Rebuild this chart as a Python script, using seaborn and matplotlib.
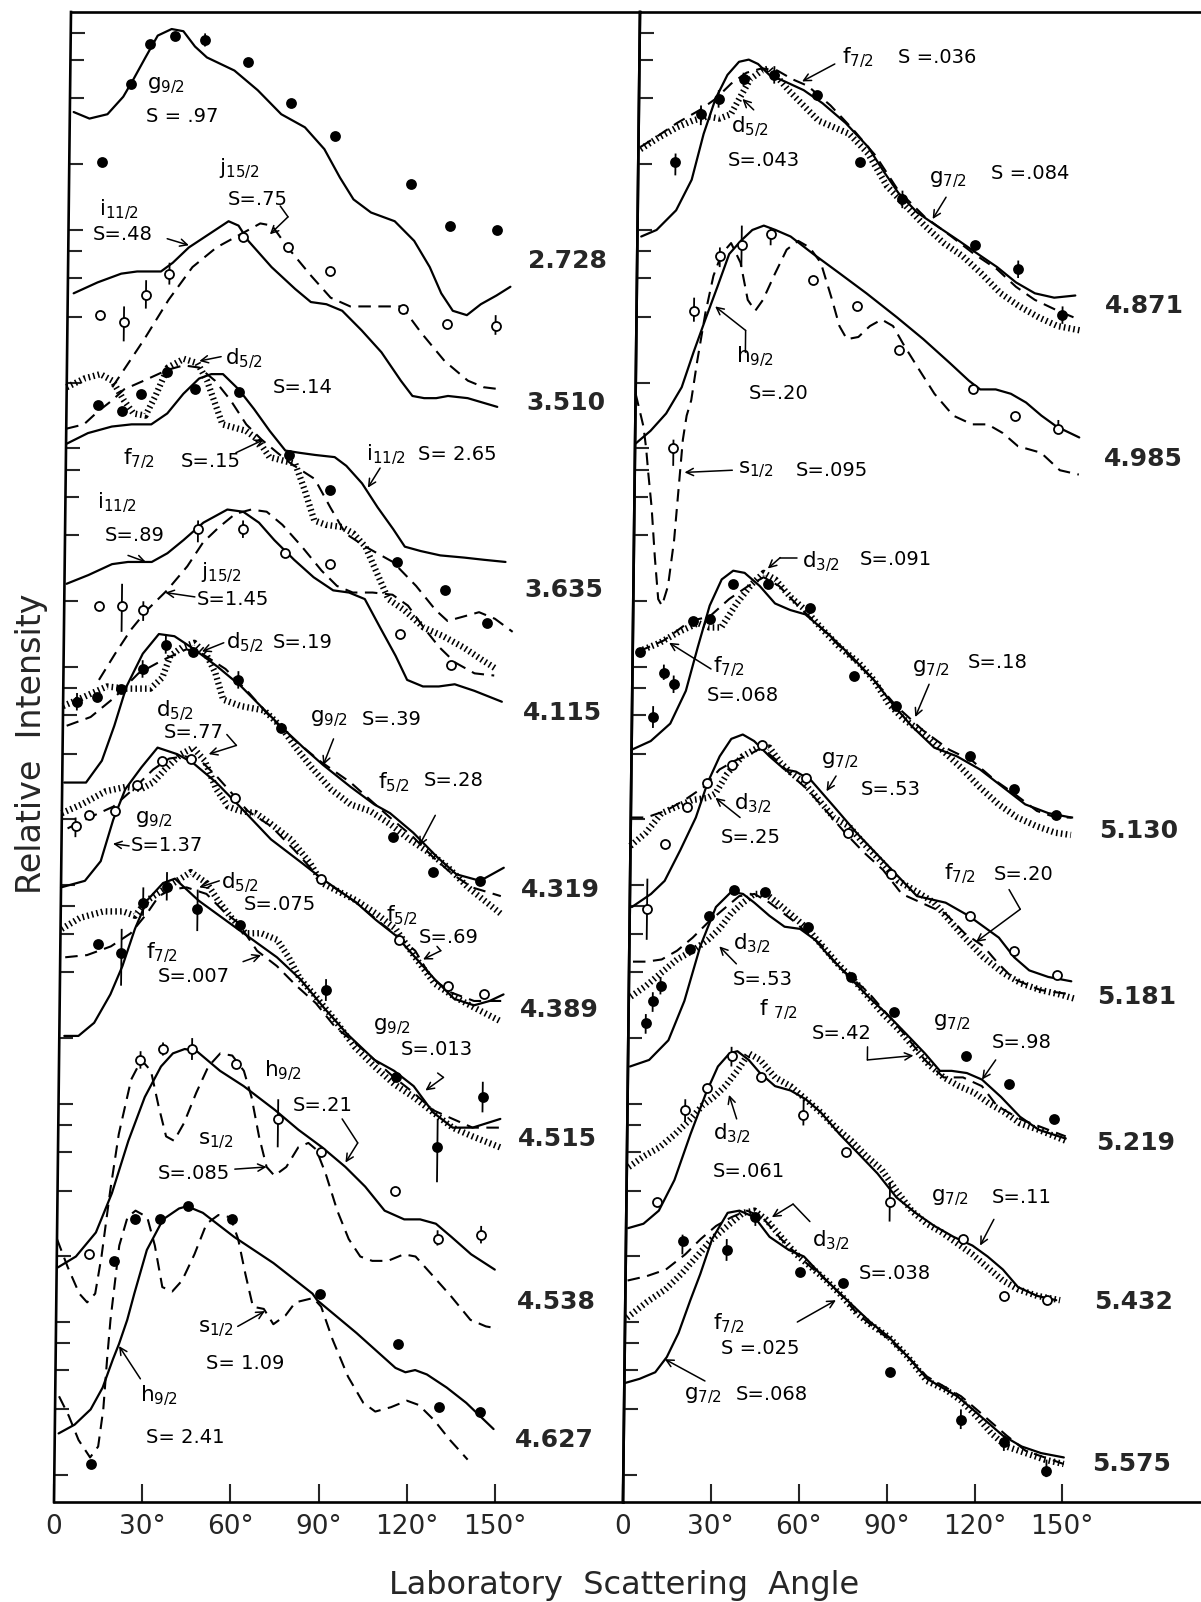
import numpy as np
import matplotlib
matplotlib.use("Agg")
import matplotlib.pyplot as plt
import matplotlib.collections as mcoll
import matplotlib.axis as maxis
from matplotlib.patches import FancyArrowPatch
from matplotlib.transforms import Affine2D
import seaborn as sns
from matplotlib.ticker import FixedLocator, NullFormatter, NullLocator

sns.set_theme(style="white")
plt.rcParams["font.family"] = ["DejaVu Sans"]
plt.rcParams["mathtext.default"] = "regular"

# Angular distributions: laboratory angle (deg) and log10 of relative intensity.
# ---------------- left panel ----------------
e2728_g92_deg = [1.3, 6.7, 12.8, 18.1, 21.5, 25.5, 29.6, 34.3, 38.3, 42.3, 46.4, 55.8, 63.8, 71.9, 80.0, 86.7, 92.1, 96.8, 102.8, 110.9, 117.6, 123.0, 127.0, 131.0, 135.8, 140.5, 145.8, 150.5]
e2728_g92_lg = [6.54, 6.51, 6.53, 6.61, 6.69, 6.79, 6.89, 6.92, 6.91, 6.84, 6.79, 6.73, 6.64, 6.53, 6.47, 6.37, 6.24, 6.14, 6.08, 6.04, 5.95, 5.83, 5.71, 5.63, 5.61, 5.66, 5.70, 5.74]
e2728_pts_deg = [11.2, 20.6, 26.9, 35.6, 45.7, 60.5, 75.3, 90.1, 116.3, 129.7, 145.8]
e2728_pts_lg = [6.31, 6.67, 6.85, 6.89, 6.87, 6.77, 6.58, 6.43, 6.21, 6.02, 6.00]
e2728_err_deg = [45.7]
e2728_err_lo = [6.84]
e2728_err_hi = [6.90]

e3510_i112_deg = [2.0, 10.1, 18.1, 23.5, 31.6, 35.6, 41.0, 47.7, 54.4, 57.8, 61.2, 69.2, 77.3, 82.7, 88.0, 93.4, 100.1, 106.9, 113.6, 117.6, 121.6, 125.7, 129.7, 136.4, 146.5]
e3510_i112_lg = [5.71, 5.76, 5.80, 5.81, 5.81, 5.85, 5.92, 5.98, 6.04, 6.02, 5.95, 5.83, 5.73, 5.67, 5.66, 5.63, 5.54, 5.44, 5.31, 5.24, 5.23, 5.23, 5.24, 5.23, 5.19]
e3510_j152_deg = [15.5, 26.2, 34.3, 42.3, 50.4, 58.5, 65.2, 69.2, 74.6, 82.7, 89.4, 96.1, 102.8, 113.6, 120.3, 128.4, 136.4, 141.8, 147.8]
e3510_j152_lg = [5.28, 5.50, 5.68, 5.83, 5.92, 5.98, 6.03, 6.02, 5.92, 5.79, 5.69, 5.65, 5.65, 5.65, 5.53, 5.40, 5.31, 5.28, 5.27]
e3510_pts_deg = [11.2, 19.2, 26.6, 34.5, 59.3, 74.6, 89.1, 114.2, 129.0, 145.6]
e3510_pts_lg = [5.61, 5.58, 5.70, 5.80, 5.97, 5.92, 5.81, 5.64, 5.57, 5.56]
e3510_err_deg = [19.2, 26.6, 34.5, 145.6]
e3510_err_lo = [5.49, 5.64, 5.75, 5.52]
e3510_err_hi = [5.65, 5.77, 5.85, 5.61]

e3635_d52_deg = [0.0, 6.0, 11.4, 15.5, 19.5, 22.8, 26.9, 30.2, 34.3, 39.7, 44.4, 47.7, 50.4, 53.1, 61.2, 65.2, 69.2, 78.0, 81.3, 84.7, 88.7, 94.1, 98.1, 102.2, 106.2, 110.2, 115.6, 122.3, 129.0, 135.8, 142.5, 147.2]
e3635_d52_lg = [5.28, 5.32, 5.34, 5.31, 5.22, 5.16, 5.15, 5.24, 5.37, 5.41, 5.39, 5.31, 5.21, 5.11, 5.08, 5.04, 4.96, 4.93, 4.81, 4.67, 4.65, 4.64, 4.61, 4.55, 4.43, 4.31, 4.26, 4.18, 4.14, 4.09, 4.03, 3.99]
e3635_f72_deg = [0.0, 6.0, 10.8, 15.5, 19.5, 26.2, 34.3, 39.7, 45.0, 50.4, 55.8, 61.2, 66.5, 71.9, 76.6, 84.7, 90.1, 95.4, 102.2, 111.6, 119.6, 126.3, 130.4, 135.8, 141.1, 146.5, 152.6]
e3635_f72_lg = [5.09, 5.11, 5.17, 5.22, 5.27, 5.31, 5.36, 5.38, 5.37, 5.31, 5.22, 5.11, 5.04, 4.98, 4.93, 4.86, 4.73, 4.61, 4.55, 4.48, 4.37, 4.26, 4.21, 4.23, 4.25, 4.22, 4.16]
e3635_i112_deg = [0.0, 7.4, 15.5, 22.2, 28.9, 34.3, 39.7, 45.0, 49.1, 53.1, 58.5, 63.8, 69.2, 74.6, 79.3, 84.7, 91.4, 95.4, 100.8, 106.2, 111.6, 115.6, 121.0, 127.7, 135.8, 142.5, 149.9]
e3635_i112_lg = [5.02, 5.07, 5.10, 5.11, 5.11, 5.16, 5.25, 5.32, 5.34, 5.34, 5.27, 5.18, 5.08, 4.99, 4.98, 4.97, 4.96, 4.92, 4.84, 4.73, 4.63, 4.55, 4.53, 4.51, 4.50, 4.49, 4.48]
e3635_pts_deg = [10.8, 19.0, 25.3, 33.9, 43.7, 58.7, 75.7, 90.1, 112.9, 129.4, 143.8]
e3635_pts_lg = [5.20, 5.17, 5.25, 5.35, 5.27, 5.26, 4.97, 4.81, 4.48, 4.35, 4.20]

e4115_i112_deg = [0.7, 8.1, 16.1, 21.5, 29.6, 34.9, 40.3, 47.0, 55.1, 60.5, 65.9, 71.2, 78.0, 84.7, 91.4, 96.8, 102.2, 107.5, 112.9, 116.9, 122.3, 127.7, 133.1, 139.8, 149.2]
e4115_i112_lg = [4.38, 4.42, 4.47, 4.48, 4.48, 4.52, 4.58, 4.66, 4.72, 4.71, 4.66, 4.58, 4.49, 4.41, 4.35, 4.34, 4.31, 4.18, 4.05, 3.94, 3.91, 3.91, 3.92, 3.89, 3.84]
e4115_j152_deg = [12.1, 17.5, 22.8, 28.2, 34.9, 41.7, 47.0, 52.4, 57.8, 63.2, 68.5, 73.9, 80.6, 87.4, 92.7, 98.1, 104.8, 111.6, 116.9, 122.3, 127.7, 133.1, 139.8, 146.5]
e4115_j152_lg = [3.94, 4.06, 4.17, 4.26, 4.35, 4.46, 4.57, 4.64, 4.70, 4.72, 4.71, 4.65, 4.55, 4.44, 4.37, 4.34, 4.34, 4.33, 4.28, 4.18, 4.09, 4.02, 3.97, 3.96]
e4115_pts_deg = [11.8, 19.6, 26.9, 45.2, 60.5, 75.0, 90.1, 114.2, 131.7]
e4115_pts_lg = [4.28, 4.28, 4.26, 4.63, 4.63, 4.52, 4.47, 4.15, 4.01]
e4115_err_deg = [19.6, 26.9, 45.2, 60.5]
e4115_err_lo = [4.16, 4.21, 4.57, 4.59]
e4115_err_hi = [4.38, 4.30, 4.67, 4.67]

e4319_d52_deg = [0.0, 6.7, 14.8, 21.5, 29.6, 33.6, 36.3, 40.3, 44.4, 48.4, 51.7, 54.4, 60.5, 68.5, 73.9, 79.3, 84.7, 91.4, 98.1, 104.8, 111.6, 118.3, 125.0, 131.7, 138.4, 149.6]
e4319_d52_lg = [3.82, 3.86, 3.91, 3.90, 3.90, 3.95, 4.05, 4.09, 4.11, 4.06, 3.97, 3.85, 3.82, 3.80, 3.73, 3.63, 3.54, 3.44, 3.37, 3.34, 3.28, 3.21, 3.15, 3.08, 2.99, 2.87]
e4319_f52_deg = [1.3, 9.4, 17.5, 25.5, 33.6, 41.7, 47.0, 55.1, 63.2, 71.2, 79.3, 87.4, 98.1, 111.6, 119.6, 126.3, 133.1, 139.8, 149.6]
e4319_f52_lg = [3.73, 3.77, 3.86, 3.97, 4.03, 4.08, 4.06, 3.99, 3.88, 3.76, 3.66, 3.57, 3.47, 3.31, 3.22, 3.13, 3.05, 2.99, 2.95]
e4319_g92_deg = [0.7, 8.1, 13.4, 17.5, 21.5, 26.9, 32.3, 37.6, 44.4, 52.4, 60.5, 73.9, 81.9, 88.7, 98.1, 106.2, 111.6, 119.6, 127.7, 134.4, 142.5, 150.5]
e4319_g92_lg = [3.47, 3.47, 3.57, 3.73, 3.91, 4.06, 4.15, 4.14, 4.08, 4.00, 3.91, 3.73, 3.63, 3.55, 3.45, 3.37, 3.33, 3.24, 3.13, 3.05, 3.02, 3.08]
e4319_pts_deg = [4.7, 11.4, 19.5, 26.9, 34.7, 44.1, 59.5, 74.2, 112.6, 126.3, 142.5]
e4319_pts_lg = [3.84, 3.86, 3.90, 3.99, 4.10, 4.07, 3.94, 3.72, 3.22, 3.06, 3.02]
e4319_err_deg = [4.7, 26.9, 34.7, 59.5]
e4319_err_lo = [3.80, 3.95, 4.06, 3.90]
e4319_err_hi = [3.88, 4.03, 4.15, 3.98]

e4389_d52_deg = [0.0, 6.7, 14.8, 21.5, 26.9, 30.9, 34.9, 40.3, 44.4, 48.4, 52.4, 56.5, 60.5, 65.9, 71.2, 78.0, 84.7, 88.7, 100.5, 107.3, 114.0, 120.7, 127.4, 134.1, 140.9, 149.6]
e4389_d52_lg = [3.33, 3.37, 3.43, 3.45, 3.44, 3.47, 3.53, 3.60, 3.63, 3.57, 3.44, 3.36, 3.34, 3.33, 3.28, 3.21, 3.10, 3.01, 2.93, 2.87, 2.80, 2.67, 2.55, 2.49, 2.44, 2.38]
e4389_f52_deg = [2.0, 9.4, 17.5, 24.2, 30.9, 36.3, 41.7, 47.0, 52.4, 57.8, 63.2, 71.2, 79.3, 87.4, 100.5, 108.6, 115.3, 120.7, 126.1, 132.8, 140.9, 150.3]
e4389_f52_lg = [3.26, 3.31, 3.36, 3.44, 3.53, 3.58, 3.59, 3.57, 3.50, 3.42, 3.34, 3.27, 3.16, 3.04, 2.92, 2.83, 2.76, 2.70, 2.58, 2.51, 2.47, 2.47]
e4389_g92_deg = [0.0, 8.1, 13.4, 17.5, 21.5, 26.9, 32.3, 39.0, 44.4, 52.4, 60.5, 71.2, 82.0, 88.7, 100.5, 107.3, 114.0, 120.7, 127.4, 134.1, 140.9, 146.2, 150.9]
e4389_g92_lg = [2.99, 3.02, 3.11, 3.30, 3.44, 3.54, 3.63, 3.60, 3.56, 3.47, 3.36, 3.21, 3.10, 3.03, 2.92, 2.84, 2.77, 2.67, 2.57, 2.48, 2.45, 2.47, 2.50]
e4389_pts_deg = [4.7, 9.4, 18.1, 25.3, 33.9, 43.7, 58.7, 88.4, 115.1, 131.9, 144.2]
e4389_pts_lg = [3.27, 3.32, 3.34, 3.46, 3.57, 3.58, 3.40, 3.03, 2.75, 2.54, 2.50]
e4389_err_deg = [4.7]
e4389_err_lo = [3.22]
e4389_err_hi = [3.31]

e4515_d52_deg = [0.4, 6.5, 14.5, 21.2, 25.3, 29.3, 36.0, 44.1, 49.5, 53.5, 57.5, 62.9, 68.3, 73.7, 77.7, 81.7, 87.1, 93.8, 100.5, 107.3, 114.0, 120.7, 127.4, 134.1, 140.9, 150.3]
e4515_d52_lg = [2.80, 2.85, 2.88, 2.88, 2.86, 2.93, 2.99, 3.06, 3.01, 2.93, 2.86, 2.78, 2.78, 2.75, 2.67, 2.57, 2.49, 2.38, 2.26, 2.17, 2.09, 2.03, 1.96, 1.89, 1.85, 1.80]
e4515_f72_deg = [1.7, 9.1, 17.2, 23.9, 29.3, 33.3, 37.4, 42.7, 49.5, 56.2, 60.2, 66.9, 73.7, 80.4, 87.1, 93.8, 100.5, 107.3, 114.0, 120.7, 127.4, 134.1, 140.9, 150.3]
e4515_f72_lg = [2.67, 2.68, 2.72, 2.78, 2.87, 2.95, 2.98, 2.99, 2.96, 2.87, 2.83, 2.70, 2.63, 2.54, 2.46, 2.35, 2.28, 2.20, 2.12, 2.05, 1.97, 1.93, 1.89, 1.89]
e4515_g92_deg = [1.7, 6.5, 11.8, 17.2, 21.2, 25.3, 29.3, 34.7, 38.7, 46.8, 60.2, 73.7, 81.7, 89.8, 97.8, 107.3, 114.0, 120.7, 127.4, 134.1, 140.9, 150.3]
e4515_g92_lg = [2.31, 2.31, 2.37, 2.50, 2.63, 2.80, 2.93, 3.01, 3.03, 2.93, 2.80, 2.67, 2.57, 2.44, 2.32, 2.20, 2.15, 2.08, 1.96, 1.89, 1.89, 1.93]
e4515_pts_deg = [12.9, 20.8, 28.0, 36.0, 46.5, 60.9, 90.5, 114.7, 129.0, 144.2]
e4515_pts_lg = [2.73, 2.69, 2.92, 2.99, 2.89, 2.82, 2.52, 2.12, 1.80, 2.03]
e4515_err_deg = [20.8, 28.0, 36.0, 46.5, 90.5, 129.0, 144.2]
e4515_err_lo = [2.54, 2.86, 2.93, 2.79, 2.47, 1.64, 1.96]
e4515_err_hi = [2.80, 2.99, 3.06, 2.98, 2.57, 1.93, 2.10]

e4538_h92_deg = [0.4, 6.5, 13.2, 18.5, 23.9, 29.3, 34.7, 38.7, 42.7, 46.8, 54.8, 62.9, 73.7, 81.7, 89.8, 97.8, 104.6, 111.3, 118.0, 123.4, 128.8, 134.1, 140.9, 149.0]
e4538_h92_lg = [1.25, 1.30, 1.41, 1.59, 1.83, 2.03, 2.17, 2.23, 2.25, 2.24, 2.15, 2.08, 1.97, 1.88, 1.80, 1.71, 1.62, 1.51, 1.47, 1.47, 1.45, 1.39, 1.31, 1.24]
e4538_s12_deg = [0.0, 3.8, 7.8, 10.5, 13.2, 15.2, 17.9, 20.6, 24.6, 28.0, 31.3, 34.0, 36.7, 39.4, 42.7, 46.8, 50.8, 54.8, 58.9, 62.9, 65.6, 68.3, 71.0, 73.7, 77.7, 81.7, 85.1, 87.8, 91.1, 95.2, 99.2, 103.2, 107.3, 112.6, 118.0, 122.0, 127.4, 134.1, 140.9, 146.2, 150.3]
e4538_s12_lg = [1.38, 1.25, 1.13, 1.09, 1.13, 1.30, 1.60, 1.86, 2.11, 2.20, 2.15, 1.99, 1.85, 1.83, 1.91, 2.05, 2.17, 2.23, 2.22, 2.15, 2.03, 1.85, 1.71, 1.67, 1.71, 1.80, 1.82, 1.79, 1.68, 1.51, 1.38, 1.30, 1.28, 1.28, 1.31, 1.30, 1.22, 1.12, 1.01, 0.98, 0.97]
e4538_pts_deg = [10.9, 27.7, 35.3, 45.2, 60.2, 74.7, 89.5, 114.7, 129.4, 144.2]
e4538_pts_lg = [1.31, 2.20, 2.25, 2.25, 2.18, 1.93, 1.78, 1.60, 1.38, 1.40]
e4538_err_deg = [27.7, 35.3, 45.2, 74.7, 129.4, 144.2]
e4538_err_lo = [2.16, 2.22, 2.20, 1.80, 1.35, 1.36]
e4538_err_hi = [2.24, 2.28, 2.30, 2.02, 1.42, 1.44]

e4627_h92_deg = [1.3, 6.7, 12.1, 16.1, 19.5, 21.5, 24.2, 26.5, 30.6, 36.0, 41.4, 44.1, 49.5, 60.2, 73.7, 87.1, 88.7, 102.2, 115.6, 119.0, 122.3, 126.3, 133.1, 139.8, 149.2]
e4627_h92_lg = [0.49, 0.53, 0.60, 0.70, 0.83, 0.90, 1.01, 1.13, 1.33, 1.47, 1.52, 1.53, 1.50, 1.39, 1.27, 1.13, 1.10, 0.95, 0.79, 0.77, 0.78, 0.76, 0.70, 0.63, 0.51]
e4627_s12_deg = [1.3, 4.7, 8.1, 12.1, 14.8, 16.4, 17.5, 18.5, 21.2, 23.9, 26.6, 30.6, 33.3, 36.0, 39.4, 42.7, 46.8, 50.8, 54.8, 58.9, 61.6, 64.2, 66.9, 70.6, 73.9, 78.0, 81.3, 87.4, 90.1, 94.1, 99.5, 104.8, 108.9, 114.2, 119.6, 123.7, 129.0, 134.4, 140.5]
e4627_s12_lg = [0.66, 0.57, 0.46, 0.38, 0.43, 0.60, 0.83, 1.01, 1.35, 1.48, 1.51, 1.48, 1.35, 1.16, 1.14, 1.19, 1.31, 1.45, 1.49, 1.48, 1.38, 1.22, 1.07, 1.06, 0.99, 1.03, 1.09, 1.11, 1.07, 0.92, 0.75, 0.63, 0.59, 0.61, 0.64, 0.62, 0.55, 0.46, 0.37]
e4627_pts_deg = [12.4, 19.4, 26.6, 34.9, 44.4, 59.4, 89.5, 116.3, 130.4, 144.5]
e4627_pts_lg = [0.35, 1.28, 1.47, 1.47, 1.53, 1.47, 1.13, 0.90, 0.61, 0.59]

# ---------------- right panel ----------------
e4871_g72_deg = [1.3, 6.5, 13.1, 18.3, 22.2, 26.1, 30.1, 34.0, 37.3, 40.5, 44.4, 49.7, 56.2, 62.7, 70.6, 78.4, 83.7, 88.9, 95.4, 102.0, 109.8, 116.3, 122.9, 129.4, 135.9, 142.5, 149.7]
e4871_g72_lg = [5.97, 6.00, 6.09, 6.23, 6.44, 6.60, 6.71, 6.77, 6.78, 6.76, 6.71, 6.68, 6.64, 6.58, 6.49, 6.38, 6.27, 6.17, 6.08, 6.02, 5.95, 5.89, 5.83, 5.76, 5.71, 5.69, 5.70]
e4871_f72_deg = [0.7, 6.5, 13.1, 20.9, 26.1, 31.4, 36.6, 41.8, 47.1, 52.3, 57.5, 65.4, 73.2, 81.0, 88.9, 98.0, 107.2, 115.0, 122.9, 129.4, 135.9, 143.8, 151.0]
e4871_f72_lg = [6.38, 6.43, 6.49, 6.55, 6.60, 6.67, 6.72, 6.74, 6.73, 6.69, 6.66, 6.57, 6.46, 6.34, 6.18, 6.06, 5.97, 5.89, 5.82, 5.74, 5.68, 5.63, 5.59]
e4871_d52_deg = [0.7, 6.5, 13.1, 18.3, 23.5, 27.5, 31.4, 34.6, 37.9, 41.8, 44.4, 47.1, 51.0, 56.2, 61.4, 66.7, 71.9, 78.4, 85.0, 91.5, 98.0, 104.6, 111.1, 117.6, 124.2, 130.7, 137.3, 143.8, 151.6]
e4871_d52_lg = [6.37, 6.42, 6.47, 6.50, 6.52, 6.51, 6.53, 6.61, 6.69, 6.73, 6.74, 6.70, 6.64, 6.57, 6.50, 6.47, 6.44, 6.35, 6.20, 6.11, 6.02, 5.94, 5.88, 5.80, 5.71, 5.65, 5.60, 5.56, 5.54]
e4871_pts_deg = [12.7, 21.2, 27.2, 35.6, 46.1, 60.8, 75.6, 90.3, 115.4, 130.1, 145.4]
e4871_pts_lg = [6.31, 6.53, 6.60, 6.69, 6.71, 6.62, 6.31, 6.14, 5.93, 5.82, 5.61]
e4871_err_deg = [12.7, 21.2, 27.2, 35.6, 46.1, 90.3, 130.1, 145.4]
e4871_err_lo = [6.25, 6.48, 6.56, 6.66, 6.67, 6.10, 5.78, 5.57]
e4871_err_hi = [6.35, 6.57, 6.64, 6.72, 6.75, 6.18, 5.86, 5.65]

e4985_h92_deg = [0.0, 5.2, 10.5, 15.7, 19.6, 23.5, 27.5, 31.4, 35.3, 39.2, 43.1, 47.1, 52.3, 60.1, 69.3, 78.4, 88.9, 98.0, 107.2, 113.7, 117.6, 122.9, 128.1, 133.3, 138.6, 143.8, 151.6]
e4985_h92_lg = [5.02, 5.08, 5.16, 5.28, 5.44, 5.59, 5.74, 5.89, 5.95, 6.00, 6.02, 6.00, 5.97, 5.89, 5.80, 5.71, 5.60, 5.50, 5.39, 5.31, 5.27, 5.27, 5.25, 5.21, 5.15, 5.10, 5.05]
e4985_s12_deg = [0.0, 1.5, 2.8, 3.8, 4.6, 5.9, 7.2, 8.5, 9.8, 11.8, 13.7, 15.0, 16.3, 17.5, 19.0, 20.9, 23.5, 26.1, 28.8, 32.0, 35.3, 37.9, 40.5, 43.1, 47.1, 51.0, 54.9, 58.8, 62.7, 66.7, 69.3, 71.9, 75.8, 79.7, 83.7, 87.6, 91.5, 96.7, 102.0, 108.5, 115.0, 120.3, 125.5, 130.7, 138.6, 145.1, 151.6]
e4985_s12_lg = [5.25, 5.17, 5.10, 5.00, 4.89, 4.73, 4.50, 4.31, 4.28, 4.37, 4.58, 4.81, 5.04, 5.15, 5.22, 5.40, 5.62, 5.79, 5.89, 5.94, 5.85, 5.68, 5.63, 5.68, 5.80, 5.91, 5.95, 5.92, 5.85, 5.68, 5.56, 5.50, 5.51, 5.56, 5.59, 5.56, 5.47, 5.36, 5.25, 5.15, 5.11, 5.11, 5.07, 5.01, 4.98, 4.90, 4.88]
e4985_pts_deg = [13.1, 19.6, 28.2, 35.6, 45.5, 60.1, 75.3, 89.9, 115.3, 129.7, 144.4]
e4985_pts_lg = [5.00, 5.63, 5.88, 5.93, 5.98, 5.77, 5.65, 5.45, 5.27, 5.15, 5.09]
e4985_err_deg = [13.1, 19.6, 28.2, 35.6, 45.5, 144.4]
e4985_err_lo = [4.92, 5.58, 5.83, 5.83, 5.93, 5.07]
e4985_err_hi = [5.04, 5.69, 5.92, 6.02, 6.01, 5.13]

e5130_g72_deg = [0.0, 6.5, 13.1, 18.3, 22.2, 26.1, 30.1, 34.0, 37.9, 43.1, 48.4, 53.6, 58.8, 66.7, 74.5, 82.4, 88.9, 95.4, 103.3, 111.1, 119.0, 126.8, 134.6, 142.5, 150.3]
e5130_g72_lg = [3.62, 3.66, 3.74, 3.89, 4.09, 4.28, 4.40, 4.44, 4.43, 4.37, 4.29, 4.26, 4.24, 4.15, 4.05, 3.94, 3.83, 3.73, 3.63, 3.59, 3.53, 3.45, 3.37, 3.33, 3.31]
e5130_f72_deg = [2.0, 10.5, 19.6, 26.1, 32.7, 39.2, 44.4, 49.7, 56.2, 64.1, 73.2, 82.4, 90.2, 99.3, 108.5, 116.3, 124.2, 130.7, 138.6, 145.1, 151.0]
e5130_f72_lg = [4.07, 4.12, 4.21, 4.23, 4.31, 4.37, 4.41, 4.37, 4.28, 4.18, 4.06, 3.94, 3.82, 3.71, 3.62, 3.57, 3.48, 3.42, 3.34, 3.31, 3.31]
e5130_d32_deg = [2.0, 9.2, 15.7, 22.2, 26.1, 30.1, 35.3, 40.5, 44.4, 48.4, 53.6, 58.8, 64.1, 70.6, 77.1, 82.4, 87.6, 92.8, 99.3, 105.9, 112.4, 118.9, 125.5, 132.0, 138.6, 145.1, 150.3]
e5130_d32_lg = [4.07, 4.11, 4.16, 4.20, 4.18, 4.18, 4.29, 4.38, 4.43, 4.40, 4.32, 4.26, 4.18, 4.09, 4.02, 3.94, 3.83, 3.76, 3.70, 3.62, 3.54, 3.45, 3.37, 3.31, 3.27, 3.24, 3.23]
e5130_pts_deg = [2.4, 7.2, 10.7, 14.1, 20.3, 26.1, 34.0, 45.8, 60.5, 75.6, 90.2, 115.4, 130.7, 145.1]
e5130_pts_lg = [4.07, 3.77, 3.97, 3.92, 4.21, 4.22, 4.38, 4.38, 4.27, 3.96, 3.82, 3.59, 3.44, 3.32]
e5130_err_deg = [7.2, 10.7, 14.1]
e5130_err_lo = [3.72, 3.94, 3.88]
e5130_err_hi = [3.82, 4.01, 3.96]

e5181_g72_deg = [0.7, 7.2, 11.8, 17.0, 22.2, 26.1, 30.1, 34.0, 37.9, 41.8, 47.1, 52.3, 56.2, 61.4, 69.3, 77.1, 85.0, 91.5, 98.0, 107.8, 115.7, 126.1, 131.4, 136.6, 143.1, 151.0]
e5181_g72_lg = [2.90, 2.96, 3.02, 3.16, 3.31, 3.47, 3.59, 3.67, 3.69, 3.66, 3.59, 3.53, 3.52, 3.48, 3.36, 3.24, 3.13, 3.04, 2.95, 2.92, 2.86, 2.76, 2.67, 2.61, 2.58, 2.56]
e5181_d32_deg = [0.0, 5.2, 10.5, 15.7, 20.9, 26.1, 28.8, 32.7, 37.9, 43.1, 47.1, 51.0, 54.9, 58.8, 64.1, 69.3, 74.5, 79.7, 86.3, 91.5, 96.7, 103.9, 107.8, 114.4, 120.9, 127.5, 134.0, 140.5, 147.1, 152.3]
e5181_d32_lg = [3.18, 3.24, 3.33, 3.36, 3.39, 3.40, 3.42, 3.51, 3.59, 3.63, 3.63, 3.56, 3.51, 3.47, 3.39, 3.31, 3.27, 3.19, 3.10, 3.02, 2.98, 2.92, 2.86, 2.76, 2.67, 2.60, 2.55, 2.52, 2.50, 2.48]
e5181_f72_deg = [0.0, 5.2, 11.8, 18.3, 24.8, 30.1, 35.3, 40.5, 44.4, 49.7, 54.9, 60.1, 66.7, 73.2, 79.7, 86.3, 92.8, 107.8, 114.4, 120.9, 126.1, 131.4, 140.5, 151.0]
e5181_f72_lg = [3.31, 3.31, 3.34, 3.39, 3.45, 3.53, 3.57, 3.60, 3.63, 3.57, 3.50, 3.44, 3.34, 3.24, 3.15, 3.07, 2.96, 2.87, 2.78, 2.72, 2.64, 2.57, 2.52, 2.50]
e5181_pts_deg = [5.9, 11.8, 19.2, 25.8, 34.2, 44.4, 59.5, 74.2, 89.2, 116.1, 131.4, 146.1]
e5181_pts_lg = [2.89, 3.19, 3.36, 3.47, 3.55, 3.64, 3.49, 3.24, 3.05, 2.86, 2.70, 2.59]
e5181_err_deg = [5.9]
e5181_err_lo = [2.75]
e5181_err_hi = [3.03]

e5219_g72_deg = [0.7, 7.2, 13.7, 19.0, 24.2, 29.4, 34.6, 38.6, 42.5, 47.7, 52.9, 58.2, 63.4, 68.6, 75.2, 81.7, 88.2, 94.8, 101.3, 106.5, 110.5, 115.7, 120.9, 127.5, 134.0, 140.5, 149.7]
e5219_g72_lg = [2.17, 2.20, 2.29, 2.47, 2.72, 2.90, 2.97, 2.96, 2.92, 2.86, 2.81, 2.80, 2.75, 2.67, 2.58, 2.49, 2.41, 2.32, 2.23, 2.15, 2.15, 2.14, 2.11, 2.03, 1.94, 1.88, 1.84]
e5219_f72_deg = [1.3, 5.9, 11.1, 16.3, 21.6, 26.8, 32.0, 37.3, 42.5, 47.7, 55.6, 60.8, 66.0, 71.2, 76.5, 81.7, 88.2, 94.8, 101.3, 107.8, 114.4, 120.9, 126.1, 133.9, 149.7]
e5219_f72_lg = [2.65, 2.65, 2.66, 2.70, 2.76, 2.83, 2.89, 2.95, 2.96, 2.92, 2.84, 2.78, 2.72, 2.63, 2.57, 2.51, 2.41, 2.31, 2.20, 2.12, 2.12, 2.08, 1.99, 1.93, 1.85]
e5219_d32_deg = [0.7, 5.9, 11.1, 16.3, 21.6, 26.8, 30.7, 34.6, 38.6, 42.5, 46.4, 50.3, 55.6, 60.8, 66.0, 71.2, 76.5, 81.7, 86.9, 92.2, 97.4, 102.6, 107.8, 113.1, 118.3, 123.5, 128.8, 134.0, 140.5, 149.7]
e5219_d32_lg = [2.49, 2.54, 2.60, 2.66, 2.70, 2.75, 2.80, 2.87, 2.92, 2.96, 2.96, 2.92, 2.86, 2.80, 2.72, 2.64, 2.57, 2.49, 2.41, 2.34, 2.26, 2.18, 2.12, 2.08, 2.05, 2.00, 1.96, 1.91, 1.88, 1.83]
e5219_pts_deg = [5.9, 8.2, 10.8, 20.7, 27.2, 35.6, 46.1, 60.8, 75.8, 90.5, 115.3, 130.3, 145.5]
e5219_pts_lg = [2.37, 2.47, 2.54, 2.71, 2.86, 2.98, 2.97, 2.81, 2.58, 2.42, 2.22, 2.09, 1.93]
e5219_err_deg = [5.9, 8.2, 10.8]
e5219_err_lo = [2.32, 2.42, 2.50]
e5219_err_hi = [2.41, 2.51, 2.58]

e5432_g72_deg = [0.7, 5.9, 11.1, 16.3, 21.6, 26.8, 30.7, 34.6, 37.3, 41.2, 45.1, 50.3, 55.6, 60.8, 66.0, 72.5, 79.1, 85.6, 92.2, 98.7, 105.2, 111.8, 118.3, 123.5, 128.8, 134.0, 140.5, 147.1]
e5432_g72_lg = [1.43, 1.45, 1.51, 1.65, 1.86, 2.05, 2.17, 2.23, 2.24, 2.20, 2.14, 2.08, 2.06, 2.02, 1.96, 1.86, 1.77, 1.68, 1.57, 1.50, 1.44, 1.39, 1.35, 1.30, 1.24, 1.16, 1.12, 1.10]
e5432_d32_deg = [0.7, 5.9, 11.1, 16.3, 21.6, 25.5, 29.4, 33.3, 37.3, 41.2, 45.1, 50.3, 55.6, 60.8, 66.0, 71.2, 76.5, 81.7, 86.9, 92.2, 97.4, 102.6, 107.8, 113.1, 118.3, 123.5, 128.8, 134.0, 140.5, 148.4]
e5432_d32_lg = [1.71, 1.76, 1.80, 1.86, 1.93, 1.99, 2.03, 2.08, 2.15, 2.23, 2.20, 2.12, 2.08, 2.02, 1.96, 1.89, 1.83, 1.76, 1.70, 1.60, 1.51, 1.45, 1.41, 1.36, 1.31, 1.25, 1.19, 1.15, 1.12, 1.10]
e5432_pts_deg = [10.5, 19.7, 26.9, 35.3, 45.6, 60.1, 74.9, 89.9, 115.0, 129.4, 144.1]
e5432_pts_lg = [1.55, 1.97, 2.07, 2.22, 2.12, 1.95, 1.78, 1.55, 1.38, 1.12, 1.10]
e5432_err_deg = [19.7, 35.3, 60.1, 89.9]
e5432_err_lo = [1.92, 2.17, 1.90, 1.46]
e5432_err_hi = [2.02, 2.26, 2.02, 1.64]

e5575_g72_deg = [0.0, 5.2, 10.5, 14.4, 18.3, 22.2, 25.5, 29.4, 34.6, 38.6, 43.8, 49.0, 55.6, 60.8, 68.6, 76.5, 83.7, 90.2, 96.7, 103.3, 109.8, 113.7, 119.0, 124.2, 129.4, 135.9, 142.5, 150.3]
e5575_g72_lg = [0.72, 0.74, 0.77, 0.84, 0.95, 1.10, 1.22, 1.38, 1.50, 1.51, 1.48, 1.39, 1.33, 1.30, 1.19, 1.09, 1.00, 0.93, 0.84, 0.74, 0.69, 0.66, 0.60, 0.54, 0.48, 0.43, 0.40, 0.38]
e5575_f72_deg = [0.7, 7.2, 13.7, 20.3, 25.5, 30.7, 35.9, 41.2, 46.4, 52.9, 60.8, 68.6, 73.9, 79.1, 83.7, 90.2, 96.7, 103.3, 109.8, 115.0, 120.3, 125.5, 130.7, 137.3, 143.8, 150.3]
e5575_f72_lg = [1.19, 1.21, 1.24, 1.31, 1.38, 1.44, 1.48, 1.51, 1.48, 1.38, 1.28, 1.19, 1.12, 1.04, 0.99, 0.92, 0.84, 0.75, 0.70, 0.66, 0.60, 0.54, 0.48, 0.41, 0.38, 0.35]
e5575_d32_deg = [0.7, 7.2, 13.7, 19.0, 24.2, 29.4, 34.6, 39.9, 43.8, 47.7, 52.9, 58.2, 63.4, 68.6, 73.9, 79.1, 83.7, 90.2, 96.7, 103.3, 109.8, 115.0, 120.3, 125.5, 130.7, 137.3, 143.8, 150.3]
e5575_d32_lg = [1.02, 1.09, 1.15, 1.22, 1.30, 1.38, 1.44, 1.50, 1.51, 1.47, 1.39, 1.31, 1.25, 1.19, 1.12, 1.04, 0.99, 0.93, 0.84, 0.73, 0.69, 0.64, 0.57, 0.49, 0.43, 0.40, 0.37, 0.35]
e5575_pts_deg = [19.3, 34.4, 44.1, 59.5, 74.2, 90.5, 115.0, 129.8, 144.4]
e5575_pts_lg = [1.37, 1.33, 1.48, 1.23, 1.18, 0.77, 0.55, 0.45, 0.32]
e5575_err_deg = [19.3, 34.4, 44.1, 115.0, 129.8, 144.4]
e5575_err_lo = [1.31, 1.28, 1.44, 0.51, 0.41, 0.29]
e5575_err_hi = [1.40, 1.38, 1.50, 0.60, 0.48, 0.37]

x_tick_values = [0, 30, 60, 90, 120, 150]
x_tick_labels = ["0", "30°", "60°", "90°", "120°", "150°"]

left_energy_labels = ["2.728", "3.510", "3.635", "4.115", "4.319", "4.389", "4.515", "4.538", "4.627"]
left_energy_pos = [5.86, 5.21, 4.35, 3.79, 2.98, 2.43, 1.84, 1.09, 0.46]
right_energy_labels = ["4.871", "4.985", "5.130", "5.181", "5.219", "5.432", "5.575"]
right_energy_pos = [5.65, 4.95, 3.25, 2.49, 1.82, 1.09, 0.35]

# ---------------- drawing ----------------
SOLID = dict(color="black", linewidth=1.6, linestyle="-")
DASHED = dict(color="black", linewidth=1.5, linestyle=(0, (6, 3.6)))
HATCHED = dict(color="black", linewidth=4.6, linestyle=(0, (0.25, 0.5)))

# the drawn frame leans slightly: its left edges drift right going up the sheet
LEAN = 0.0114
AXES_BOTTOM_PX = 100


def curve(ax, deg, lg, style):
    sns.lineplot(x=deg, y=np.power(10.0, lg), ax=ax, sort=False,
                 estimator=None, legend=False, **style)
    ax.lines[-1].set_dash_capstyle("butt")


def points(ax, deg, lg, filled, err=None):
    if err is not None:
        ex, lo, hi = err
        ax.vlines(ex, np.power(10.0, lo), np.power(10.0, hi),
                  color="black", linewidth=1.3, zorder=4)
    sns.scatterplot(x=deg, y=np.power(10.0, lg), ax=ax, s=42,
                    color="black" if filled else "white",
                    edgecolor="black", linewidth=1.3, zorder=5, legend=False)


def leader(ax, chain):
    xs = [p[0] for p in chain]
    ys = [10.0 ** p[1] for p in chain]
    if len(chain) > 2:
        ax.plot(xs[:-1], ys[:-1], color="black", linewidth=1.1)
    arrow = FancyArrowPatch((xs[-2], ys[-2]), (xs[-1], ys[-1]),
                            arrowstyle="->", mutation_scale=13, color="black",
                            linewidth=1.1, shrinkA=0, shrinkB=0,
                            transform=ax.transData)
    ax.add_patch(arrow)


def note(ax, txt, x, y, size=14):
    ax.text(x, 10.0 ** y, txt, fontsize=size, ha="left", va="center", color="black")


fig = plt.figure(figsize=(12.01, 16.02), dpi=100)
axL = fig.add_axes([54 / 1201, AXES_BOTTOM_PX / 1602, 569 / 1201, 1490 / 1602])
axR = fig.add_axes([623 / 1201, AXES_BOTTOM_PX / 1602, 578 / 1201, 1490 / 1602])

ytick_vals = [m * 10.0 ** k for k in range(0, 7) for m in (1, 2, 4, 6, 8)
              if 1.6 < m * 10.0 ** k < 9.9e6]

for ax, xmax in ((axL, 193.5), (axR, 197.3)):
    ax.set_yscale("log")
    ax.set_xlim(0, xmax)
    ax.set_ylim(10 ** 0.176, 10 ** 6.998)
    ax.yaxis.set_major_locator(FixedLocator(ytick_vals))
    ax.yaxis.set_minor_locator(NullLocator())
    ax.yaxis.set_major_formatter(NullFormatter())
    ax.set_xticks(x_tick_values)
    ax.set_xticklabels(x_tick_labels)
    ax.tick_params(axis="y", direction="in", length=10, width=1.5, left=True, right=False)
    ax.tick_params(axis="x", direction="in", length=13, width=1.5, labelsize=19, pad=9, bottom=True)
    for s in ax.spines.values():
        s.set_linewidth(1.9)
        s.set_color("black")
    ax.set_xlabel("")
    ax.set_ylabel("")
    ax.grid(False)
    ax.patch.set_visible(False)
axR.spines["right"].set_visible(False)

# left panel curves
curve(axL, e2728_g92_deg, e2728_g92_lg, SOLID)
points(axL, e2728_pts_deg, e2728_pts_lg, True, (e2728_err_deg, e2728_err_lo, e2728_err_hi))

curve(axL, e3510_i112_deg, e3510_i112_lg, SOLID)
curve(axL, e3510_j152_deg, e3510_j152_lg, DASHED)
points(axL, e3510_pts_deg, e3510_pts_lg, False, (e3510_err_deg, e3510_err_lo, e3510_err_hi))

curve(axL, e3635_d52_deg, e3635_d52_lg, HATCHED)
curve(axL, e3635_f72_deg, e3635_f72_lg, DASHED)
curve(axL, e3635_i112_deg, e3635_i112_lg, SOLID)
points(axL, e3635_pts_deg, e3635_pts_lg, True)

curve(axL, e4115_i112_deg, e4115_i112_lg, SOLID)
curve(axL, e4115_j152_deg, e4115_j152_lg, DASHED)
points(axL, e4115_pts_deg, e4115_pts_lg, False, (e4115_err_deg, e4115_err_lo, e4115_err_hi))

curve(axL, e4319_d52_deg, e4319_d52_lg, HATCHED)
curve(axL, e4319_f52_deg, e4319_f52_lg, DASHED)
curve(axL, e4319_g92_deg, e4319_g92_lg, SOLID)
points(axL, e4319_pts_deg, e4319_pts_lg, True, (e4319_err_deg, e4319_err_lo, e4319_err_hi))

curve(axL, e4389_d52_deg, e4389_d52_lg, HATCHED)
curve(axL, e4389_f52_deg, e4389_f52_lg, DASHED)
curve(axL, e4389_g92_deg, e4389_g92_lg, SOLID)
points(axL, e4389_pts_deg, e4389_pts_lg, False, (e4389_err_deg, e4389_err_lo, e4389_err_hi))

curve(axL, e4515_d52_deg, e4515_d52_lg, HATCHED)
curve(axL, e4515_f72_deg, e4515_f72_lg, DASHED)
curve(axL, e4515_g92_deg, e4515_g92_lg, SOLID)
points(axL, e4515_pts_deg, e4515_pts_lg, True, (e4515_err_deg, e4515_err_lo, e4515_err_hi))

curve(axL, e4538_h92_deg, e4538_h92_lg, SOLID)
curve(axL, e4538_s12_deg, e4538_s12_lg, DASHED)
points(axL, e4538_pts_deg, e4538_pts_lg, False, (e4538_err_deg, e4538_err_lo, e4538_err_hi))

curve(axL, e4627_h92_deg, e4627_h92_lg, SOLID)
curve(axL, e4627_s12_deg, e4627_s12_lg, DASHED)
points(axL, e4627_pts_deg, e4627_pts_lg, True)

# right panel curves
curve(axR, e4871_g72_deg, e4871_g72_lg, SOLID)
curve(axR, e4871_f72_deg, e4871_f72_lg, DASHED)
curve(axR, e4871_d52_deg, e4871_d52_lg, HATCHED)
points(axR, e4871_pts_deg, e4871_pts_lg, True, (e4871_err_deg, e4871_err_lo, e4871_err_hi))

curve(axR, e4985_h92_deg, e4985_h92_lg, SOLID)
curve(axR, e4985_s12_deg, e4985_s12_lg, DASHED)
points(axR, e4985_pts_deg, e4985_pts_lg, False, (e4985_err_deg, e4985_err_lo, e4985_err_hi))

curve(axR, e5130_g72_deg, e5130_g72_lg, SOLID)
curve(axR, e5130_f72_deg, e5130_f72_lg, DASHED)
curve(axR, e5130_d32_deg, e5130_d32_lg, HATCHED)
points(axR, e5130_pts_deg, e5130_pts_lg, True, (e5130_err_deg, e5130_err_lo, e5130_err_hi))

curve(axR, e5181_g72_deg, e5181_g72_lg, SOLID)
curve(axR, e5181_d32_deg, e5181_d32_lg, HATCHED)
curve(axR, e5181_f72_deg, e5181_f72_lg, DASHED)
points(axR, e5181_pts_deg, e5181_pts_lg, False, (e5181_err_deg, e5181_err_lo, e5181_err_hi))

curve(axR, e5219_g72_deg, e5219_g72_lg, SOLID)
curve(axR, e5219_f72_deg, e5219_f72_lg, DASHED)
curve(axR, e5219_d32_deg, e5219_d32_lg, HATCHED)
points(axR, e5219_pts_deg, e5219_pts_lg, True, (e5219_err_deg, e5219_err_lo, e5219_err_hi))

curve(axR, e5432_g72_deg, e5432_g72_lg, SOLID)
curve(axR, e5432_d32_deg, e5432_d32_lg, HATCHED)
points(axR, e5432_pts_deg, e5432_pts_lg, False, (e5432_err_deg, e5432_err_lo, e5432_err_hi))

curve(axR, e5575_g72_deg, e5575_g72_lg, SOLID)
curve(axR, e5575_f72_deg, e5575_f72_lg, DASHED)
curve(axR, e5575_d32_deg, e5575_d32_lg, HATCHED)
points(axR, e5575_pts_deg, e5575_pts_lg, True, (e5575_err_deg, e5575_err_lo, e5575_err_hi))

# level / spectroscopic-factor labels
left_notes = [
    (r"g$_{9/2}$", 26.2, 6.66), ("S = .97", 25.9, 6.52),
    (r"j$_{15/2}$", 51.1, 6.28), ("S=.75", 54.2, 6.14),
    (r"i$_{11/2}$", 10.3, 6.09), ("S=.48", 8.1, 5.98),
    (r"d$_{5/2}$", 53.8, 5.41), ("S=.14", 69.9, 5.28),
    (r"f$_{7/2}$", 19.5, 4.95), ("S=.15", 39.0, 4.94),
    (r"i$_{11/2}$", 102.2, 4.97), ("S= 2.65", 119.6, 4.97),
    (r"i$_{11/2}$", 10.8, 4.75), ("S=.89", 13.4, 4.60),
    (r"j$_{15/2}$", 46.4, 4.43), ("S=1.45", 45.0, 4.31),
    (r"d$_{5/2}$", 55.1, 4.11), ("S=.19", 71.2, 4.11),
    (r"g$_{9/2}$", 84.0, 3.76), ("S=.39", 101.5, 3.76),
    (r"d$_{5/2}$", 31.6, 3.80), ("S=.77", 34.3, 3.70),
    (r"f$_{5/2}$", 107.5, 3.47), ("S=.28", 123.0, 3.48),
    (r"g$_{9/2}$", 24.9, 3.30), ("S=1.37", 23.5, 3.18),
    (r"d$_{5/2}$", 54.4, 3.01), ("S=.075", 62.2, 2.91),
    (r"f$_{7/2}$", 29.3, 2.69), ("S=.007", 33.3, 2.58),
    (r"f$_{5/2}$", 110.6, 2.86), ("S=.69", 122.0, 2.76),
    (r"g$_{9/2}$", 106.6, 2.35), ("S=.013", 116.0, 2.25),
    (r"h$_{9/2}$", 69.6, 2.15), ("S=.21", 79.7, 1.99),
    (r"s$_{1/2}$", 47.4, 1.83), ("S=.085", 34.0, 1.68),
    (r"s$_{1/2}$", 48.4, 0.97), ("S= 1.09", 51.1, 0.81),
    (r"h$_{9/2}$", 28.9, 0.66), ("S= 2.41", 30.9, 0.47),
]
left_leaders = [
    [(71.9, 6.11), (74.6, 6.06), (68.5, 5.98)],
    [(33.6, 5.96), (41.0, 5.93)],
    [(52.4, 5.42), (45.0, 5.40)],
    [(57.8, 4.98), (67.2, 5.04)],
    [(106.9, 4.91), (102.8, 4.82)],
    [(21.5, 4.51), (27.6, 4.48)],
    [(44.4, 4.32), (34.3, 4.34)],
    [(54.4, 4.11), (47.0, 4.07)],
    [(92.1, 3.67), (88.7, 3.55)],
    [(55.8, 3.69), (59.1, 3.64), (49.7, 3.60)],
    [(127.0, 3.32), (121.6, 3.18)],
    [(23.0, 3.18), (17.5, 3.19)],
    [(53.8, 3.02), (47.0, 2.99)],
    [(62.2, 2.65), (68.3, 2.68)],
    [(128.1, 2.72), (129.4, 2.70), (123.4, 2.66)],
    [(128.8, 2.14), (130.8, 2.12), (124.7, 2.06)],
    [(96.5, 1.93), (101.9, 1.82), (97.8, 1.73)],
    [(60.2, 1.70), (71.0, 1.71)],
    [(61.8, 0.98), (71.0, 1.05)],
    [(28.9, 0.74), (21.5, 0.89)],
]
right_notes = [
    (r"f$_{7/2}$", 69.3, 6.79), ("S =.036", 88.2, 6.79),
    (r"d$_{5/2}$", 31.4, 6.47), ("S=.043", 30.7, 6.32),
    (r"g$_{7/2}$", 99.3, 6.23), ("S =.084", 120.3, 6.26),
    (r"h$_{9/2}$", 34.0, 5.42), ("S=.20", 38.6, 5.25),
    (r"s$_{1/2}$", 35.3, 4.90), ("S=.095", 54.9, 4.90),
    (r"d$_{3/2}$", 57.5, 4.48), ("S=.091", 77.1, 4.49),
    (r"f$_{7/2}$", 27.5, 4.00), ("S=.068", 25.5, 3.87),
    (r"g$_{7/2}$", 95.4, 3.99), ("S=.18", 114.4, 4.02),
    (r"g$_{7/2}$", 64.7, 3.57), ("S=.53", 78.4, 3.44),
    (r"d$_{3/2}$", 35.3, 3.37), ("S=.25", 30.7, 3.22),
    (r"f$_{7/2}$", 107.2, 3.05), ("S=.20", 124.2, 3.05),
    (r"d$_{3/2}$", 35.3, 2.73), ("S=.53", 35.3, 2.57),
    (r"f $_{7/2}$", 44.4, 2.43), ("S=.42", 62.7, 2.32),
    (r"g$_{7/2}$", 103.9, 2.37), ("S=.98", 124.2, 2.28),
    (r"d$_{3/2}$", 29.4, 1.86), ("S=.061", 29.4, 1.69),
    (r"g$_{7/2}$", 103.9, 1.57), ("S=.11", 124.8, 1.57),
    (r"d$_{3/2}$", 63.4, 1.37), ("S=.038", 79.7, 1.22),
    (r"f$_{7/2}$", 30.1, 0.99), ("S =.025", 32.7, 0.88),
    (r"g$_{7/2}$", 20.3, 0.66), ("S=.068", 37.9, 0.67),
]
right_leaders = [
    [(66.7, 6.76), (55.6, 6.68)],
    [(39.2, 6.55), (35.3, 6.60)],
    [(105.2, 6.15), (100.7, 6.05)],
    [(37.3, 5.44), (37.3, 5.54), (26.8, 5.65)],
    [(33.3, 4.90), (17.0, 4.89)],
    [(55.6, 4.50), (50.0, 4.50), (45.8, 4.45)],
    [(26.8, 3.99), (12.4, 4.11)],
    [(101.3, 3.92), (96.7, 3.77)],
    [(69.9, 3.50), (66.7, 3.43)],
    [(37.3, 3.31), (28.8, 3.40)],
    [(129.4, 2.98), (133.3, 2.89), (118.3, 2.74)],
    [(36.6, 2.64), (30.7, 2.72)],
    [(81.7, 2.26), (81.7, 2.20), (97.4, 2.22)],
    [(125.5, 2.20), (120.9, 2.11)],
    [(37.3, 1.93), (34.6, 2.04)],
    [(125.5, 1.47), (120.9, 1.35)],
    [(62.7, 1.46), (56.9, 1.54), (49.7, 1.48)],
    [(58.8, 1.00), (71.9, 1.10)],
    [(27.5, 0.73), (13.7, 0.83)],
]

for ax, notes, leaders in ((axL, left_notes, left_leaders), (axR, right_notes, right_leaders)):
    for txt, x, y in notes:
        note(ax, txt, x, y, size=15.5 if "$" in txt else 14)
    for chain in leaders:
        leader(ax, chain)

for txt, y in zip(left_energy_labels, left_energy_pos):
    axL.text(156.5, 10.0 ** y, txt, fontsize=18, fontweight="bold", ha="left", va="center")
for txt, y in zip(right_energy_labels, right_energy_pos):
    axR.text(160, 10.0 ** y, txt, fontsize=18, fontweight="bold", ha="left", va="center")

fig.text(0.52, 0.0106, "Laboratory  Scattering  Angle", fontsize=23, ha="center", va="center")
fig.text(0.026, 0.536, "Relative  Intensity", fontsize=24, rotation=90, ha="center", va="center")

# lean every element of both frames (spines, ticks, curves, labels) by the same shear
fig.canvas.draw()
lean = Affine2D.from_values(1, 0, LEAN, 1, -LEAN * AXES_BOTTOM_PX, 0)
for ax in (axL, axR):
    for art in ax.findobj():
        if art is ax or isinstance(art, maxis.Axis):
            continue
        if isinstance(art, mcoll.PathCollection):
            art.set_offset_transform(art.get_offset_transform() + lean)
        else:
            art.set_transform(art.get_transform() + lean)

fig.savefig("out.png", dpi=100)
